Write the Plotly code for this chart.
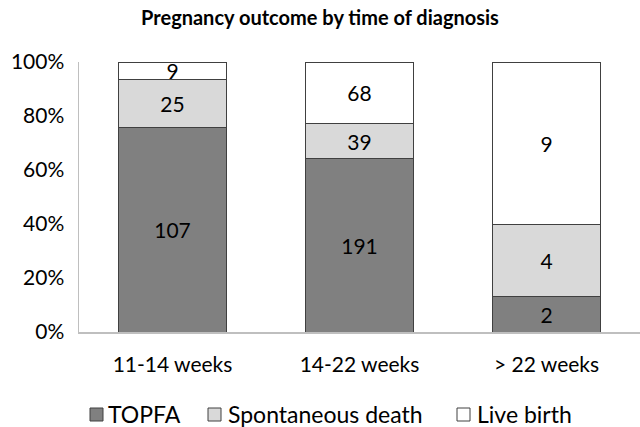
import plotly.graph_objects as go

categories = ["11-14 weeks", "14-22 weeks", "> 22 weeks"]
topfa = [107, 191, 2]
spontaneous = [25, 39, 4]
live_birth = [9, 68, 9]
y_ticks = [0, 20, 40, 60, 80, 100]
y_tick_labels = ["0%", "20%", "40%", "60%", "80%", "100%"]

FONT = "Lato, Open Sans, sans-serif"
series = [
    ("TOPFA", topfa, "#808080"),
    ("Spontaneous death", spontaneous, "#d9d9d9"),
    ("Live birth", live_birth, "#ffffff"),
]

W, H = 640, 427
ML, MR, MT, MB = 79, 0, 62, 95
PW, PH = W - ML - MR, H - MT - MB


def px_x(px):
    return (px - ML) / PW


def px_y(py):
    return (H - MB - py) / PH


fig = go.Figure()
for name, vals, color in series:
    fig.add_trace(go.Bar(
        x=categories, y=vals, name=name,
        marker=dict(color=color, line=dict(color="#404040", width=1)),
        text=[str(v) for v in vals], textposition="inside",
        insidetextanchor="middle", textangle=0,
        textfont=dict(family=FONT, size=21, color="#000000"),
        hoverinfo="skip",
    ))

# custom legend (swatch + label)
legend_swatch_x = [90, 208, 457]
legend_text_x = [106, 226, 475]
shapes = []
annotations = []
for (name, vals, color), sx, tx in zip(series, legend_swatch_x, legend_text_x):
    shapes.append(dict(type="rect", xref="paper", yref="paper",
                       x0=px_x(sx), x1=px_x(sx + 13), y0=px_y(421), y1=px_y(408),
                       fillcolor=color, line=dict(color="#404040", width=1)))
    annotations.append(dict(text=name, xref="paper", yref="paper",
                            x=px_x(tx), y=px_y(414), xanchor="left", yanchor="middle",
                            showarrow=False,
                            font=dict(family=FONT, size=23, color="#000000")))

fig.update_layout(
    width=W, height=H,
    barmode="stack", barnorm="percent", bargap=0.42,
    uniformtext=dict(mode="show", minsize=21),
    paper_bgcolor="white", plot_bgcolor="white",
    margin=dict(l=ML, r=MR, t=MT, b=MB, autoexpand=False),
    font=dict(family=FONT, color="#000000"),
    title=dict(text="<b>Pregnancy outcome by time of diagnosis</b>",
               x=0.5, xref="container", xanchor="center",
               y=1 - 18 / H, yref="container", yanchor="middle",
               font=dict(family=FONT, size=20, color="#000000")),
    showlegend=False,
    shapes=shapes,
    annotations=annotations,
    xaxis=dict(showline=True, linecolor="#bfbfbf", linewidth=1.5, ticks="",
               automargin=False, ticklabelstandoff=13,
               tickfont=dict(family=FONT, size=21, color="#000000"), showgrid=False),
    yaxis=dict(range=[0, 100], tickvals=y_ticks, ticktext=y_tick_labels,
               showline=True, linecolor="#bfbfbf", linewidth=1.5, showgrid=False,
               zeroline=False, ticks="", automargin=False, ticklabelstandoff=9,
               tickfont=dict(family=FONT, size=21, color="#000000")),
)

fig.write_html("out.html",
               config={"displayModeBar": False, "staticPlot": True},
               post_script="document.body.style.margin='0';document.body.style.padding='0';")
